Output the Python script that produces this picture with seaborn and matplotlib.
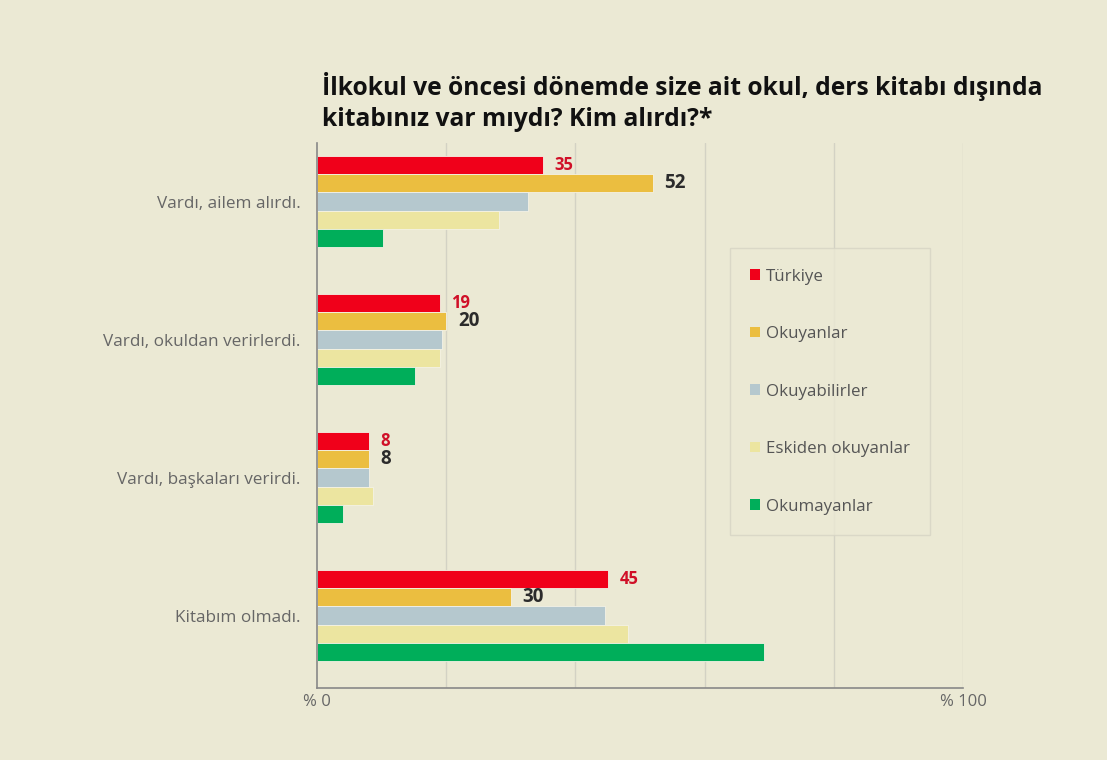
import numpy as np
import pandas as pd
import matplotlib
matplotlib.use("Agg")
import matplotlib.pyplot as plt
import seaborn as sns

# ---- data ----
categories = ["Vardı, ailem alırdı.", "Vardı, okuldan verirlerdi.",
              "Vardı, başkaları verirdi.", "Kitabım olmadı."]
groups = ["Türkiye", "Okuyanlar", "Okuyabilirler", "Eskiden okuyanlar", "Okumayanlar"]
turkiye      = [35, 19, 8, 45]
okuyanlar    = [52, 20, 8, 30]
okuyabilir   = [32.7, 19.3, 8.0, 44.6]
eskiden      = [28.2, 19.0, 8.7, 48.2]
okumayanlar  = [10.2, 15.2, 4.0, 69.2]
turkiye_lbl   = ["35", "19", "8", "45"]
okuyanlar_lbl = ["52", "20", "8", "30"]

colors = ["#F0001A", "#EBBE40", "#B5C8CE", "#ECE5A0", "#00AE5A"]
BG = "#EBE9D4"

rows = []
for g, vals in zip(groups, [turkiye, okuyanlar, okuyabilir, eskiden, okumayanlar]):
    for c, v in zip(categories, vals):
        rows.append({"cat": c, "grp": g, "val": v})
df = pd.DataFrame(rows)

sns.set_style("white")
plt.rcParams['font.family'] = ['Open Sans', 'DejaVu Sans']

fig = plt.figure(figsize=(11.07, 7.6), dpi=100)
fig.patch.set_facecolor(BG)
ax = fig.add_axes([0.2864, 0.0947, 0.5836, 0.7171])
ax.set_facecolor(BG)

sns.barplot(data=df, y="cat", x="val", hue="grp", order=categories,
            hue_order=groups, palette=colors, orient="h", width=0.66,
            saturation=1, edgecolor="#F4F2E6", linewidth=0.6, ax=ax,
            legend=True)

ax.set_xlim(0, 100)
ax.set_ylim(3.525, -0.424)
ax.set_xlabel("")
ax.set_ylabel("")

# grid
for gx in [20, 40, 60, 80, 100]:
    ax.axvline(gx, color="#D3D2C4", lw=1, zorder=0)

# spines
for s in ["top", "right"]:
    ax.spines[s].set_visible(False)
for s in ["left", "bottom"]:
    ax.spines[s].set_color("#888888")
    ax.spines[s].set_linewidth(1.2)

ax.set_xticks([0, 20, 40, 60, 80, 100])
ax.set_xticklabels(["% 0", "", "", "", "", "% 100"])
ax.tick_params(axis="x", length=5, color="#888888", labelsize=12,
               labelcolor="#666666", pad=-1)
ax.set_yticks(range(len(categories)))
ax.set_yticklabels(categories)
ax.tick_params(axis="y", length=0, labelsize=12.3, labelcolor="#666666", pad=12)
ax.set_yticks([-0.424, 0.5, 1.5, 2.5], minor=True)
ax.tick_params(axis="y", which="minor", length=5, color="#888888")

# value labels on first two series
for cont, lbls, col, fs in [(ax.containers[0], turkiye_lbl, "#D01028", 12),
                            (ax.containers[1], okuyanlar_lbl, "#2B2B2B", 13.5)]:
    for bar, t in zip(cont, lbls):
        y = bar.get_y() + bar.get_height() / 2
        ax.text(bar.get_width() + 1.8, y, t, color=col, fontsize=fs,
                fontweight="bold", va="center", ha="left")

# legend
leg = ax.legend(loc="upper left", bbox_to_anchor=(0.639, 0.807), frameon=True,
                fontsize=12.2, handlelength=0.57, handleheight=0.57,
                handletextpad=0.35, labelspacing=2.45, borderpad=1.2,
                borderaxespad=0)
leg.get_frame().set_facecolor(BG)
leg.get_frame().set_edgecolor("#D6D4C4")
leg.get_frame().set_linewidth(1)
leg.get_frame().set_boxstyle("square", pad=0)
for t in leg.get_texts():
    t.set_color("#555555")
for h in leg.legend_handles:
    h.set_edgecolor("none")

fig.text(0.291, 0.826, "İlkokul ve öncesi dönemde size ait okul, ders kitabı dışında\nkitabınız var mıydı? Kim alırdı?*",
         fontsize=17.7, fontweight="bold", color="#111111", ha="left",
         va="bottom", linespacing=1.33)

fig.savefig("out.png", dpi=100, facecolor=BG)
